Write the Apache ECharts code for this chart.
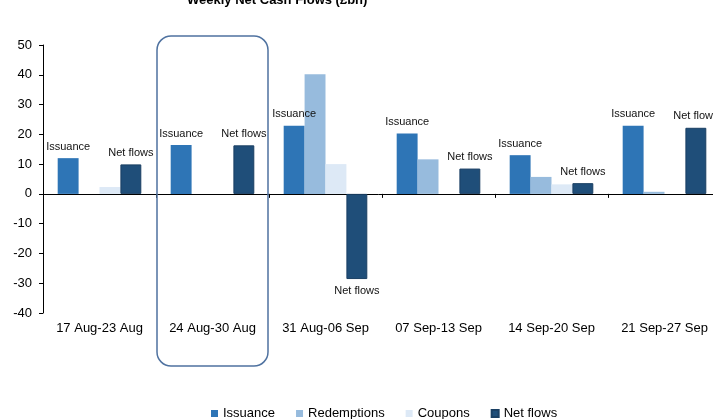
<!DOCTYPE html>
<html>
<head>
<meta charset="utf-8">
<script src="https://cdn.jsdelivr.net/npm/echarts@6/dist/echarts.min.js"></script>
<style>
html,body{margin:0;padding:0;background:#fff;}
#c{width:713px;height:419px;}
</style>
</head>
<body>
<div id="c"></div>
<script>
var categories = ['17 Aug-23 Aug','24 Aug-30 Aug','31 Aug-06 Sep','07 Sep-13 Sep','14 Sep-20 Sep','21 Sep-27 Sep'];
var issuance    = [12.0, 16.4, 22.9, 20.3, 13.0, 22.9];
var redemptions = [0.0, 0.0, 40.2, 11.6, 5.7, 0.7];
var coupons     = [2.3, 0.0, 10.0, 0.0, 3.2, 0.0];
var netFlows    = [9.9, 16.3, -28.6, 8.5, 3.6, 22.2];
var yTicks = {min: -40, max: 50, step: 10};

var FONT = 'Liberation Sans, Arial, sans-serif';

function labelled(values){
  return values.map(function(v){
    return {value: v, label: {position: v < 0 ? 'bottom' : 'top'}};
  });
}

var chart = echarts.init(document.getElementById('c'));
chart.setOption({
  animation: false,
  backgroundColor: '#fff',
  title: {
    text: 'Weekly Net Cash Flows (£bn)',
    left: 182, top: -11,
    textStyle: {fontFamily: FONT, fontSize: 13, fontWeight: 'bold', color: '#000'}
  },
  grid: {left: 43, width: 678, top: 45, height: 268, containLabel: false, outerBoundsMode: 'none'},
  legend: {
    left: 206, top: 402,
    itemWidth: 7, itemHeight: 7, itemGap: 21,
    icon: 'rect',
    textStyle: {fontFamily: FONT, fontSize: 13, color: '#000'},
    data: ['Issuance','Redemptions','Coupons','Net flows']
  },
  xAxis: [{
    type: 'category', data: categories,
    axisLine: {onZero: true, lineStyle: {color: '#000', width: 1}},
    axisTick: {show: true, length: 4, alignWithLabel: false, lineStyle: {color: '#000'}},
    axisLabel: {show: false},
    splitLine: {show: false}
  },{
    type: 'category', data: categories, position: 'bottom',
    axisLine: {show: false, onZero: false},
    axisTick: {show: false},
    axisLabel: {show: true, interval: 0, margin: 9, fontFamily: FONT, fontSize: 13, color: '#000'},
    splitLine: {show: false}
  }],
  yAxis: {
    type: 'value', min: yTicks.min, max: yTicks.max, interval: yTicks.step,
    axisLine: {show: true, lineStyle: {color: '#000', width: 1}},
    axisTick: {show: true, length: 4, lineStyle: {color: '#000'}},
    axisLabel: {margin: 11, fontFamily: FONT, fontSize: 13, color: '#000'},
    splitLine: {show: false}
  },
  series: [{
    name: 'Issuance', type: 'bar', xAxisIndex: 0,
    barGap: '0%', barCategoryGap: '26%',
    itemStyle: {color: '#2E75B6'},
    label: {show: true, formatter: '{a}', distance: 6, fontFamily: FONT, fontSize: 11, color: '#111'},
    data: labelled(issuance)
  },{
    name: 'Redemptions', type: 'bar', xAxisIndex: 0,
    itemStyle: {color: '#97BBDD'},
    data: redemptions
  },{
    name: 'Coupons', type: 'bar', xAxisIndex: 0,
    itemStyle: {color: '#DDE9F6'},
    data: coupons
  },{
    name: 'Net flows', type: 'bar', xAxisIndex: 0,
    itemStyle: {color: '#1F4E79', borderColor: '#1A3F63', borderWidth: 1},
    label: {show: true, formatter: '{a}', distance: 6, fontFamily: FONT, fontSize: 11, color: '#111'},
    data: labelled(netFlows)
  }],
  graphic: [{
    type: 'rect', z: 100,
    shape: {x: 157, y: 36, width: 111, height: 330, r: 14},
    style: {fill: 'none', stroke: '#4F72A0', lineWidth: 1.5}
  }]
});
</script>
</body>
</html>
